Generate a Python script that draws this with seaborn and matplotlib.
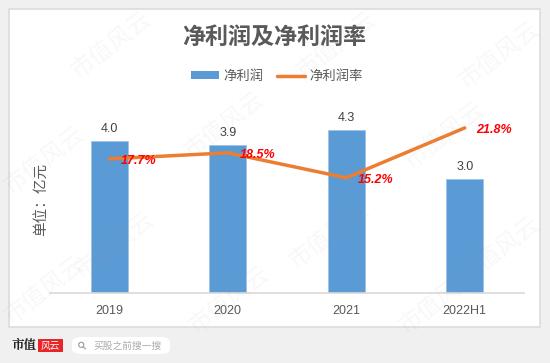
import matplotlib
matplotlib.use("Agg")
import matplotlib.pyplot as plt
import seaborn as sns
import numpy as np
from matplotlib.patches import Rectangle, FancyBboxPatch, Patch
from matplotlib.lines import Line2D

# ---- data ----
categories = ["2019", "2020", "2021", "2022H1"]
net_profit = [4.0, 3.9, 4.3, 3.0]          # 亿元
net_margin = [17.7, 18.5, 15.2, 21.8]      # %
profit_labels = ["4.0", "3.9", "4.3", "3.0"]
margin_labels = ["17.7%", "18.5%", "15.2%", "21.8%"]

title = "净利润及净利润率"
series_names = ["净利润", "净利润率"]
ylabel = "单位：亿元"

BLUE = "#5B9BD5"
ORANGE = "#ED7D31"
GRAY = "#595959"
CJK = ["Noto Sans CJK SC", "DejaVu Sans"]
NUM = ["Liberation Sans", "Noto Sans CJK SC"]

sns.set_theme(style="white")
plt.rcParams["font.family"] = CJK

W, H = 550, 363
fig = plt.figure(figsize=(W / 100, H / 100), dpi=100, facecolor="#f0f0f0")

# white panel
fig.patches.append(Rectangle((9 / W, 1 - 327 / H), 531 / W, 318 / H,
                             transform=fig.transFigure, facecolor="white",
                             edgecolor="#dcdcdc", linewidth=1.2, zorder=-10))

ax = fig.add_axes([50 / W, (H - 292.7) / H, 474 / W, 189 / H])
ax.set_facecolor("none")
sns.barplot(x=categories, y=net_profit, ax=ax, color=BLUE, width=0.31,
            saturation=1, edgecolor="#9cc3e6", linewidth=0.6)
ax.set_ylim(0, 5)
ax.set_xlim(-0.5, 3.5)
ax.bar_label(ax.containers[0], labels=profit_labels, padding=4.5,
             fontsize=9, color="#404040", family=NUM)

ax2 = ax.twinx()
sns.pointplot(x=categories, y=net_margin, ax=ax2, color=ORANGE,
              markers="", linestyles="-", linewidth=2.5, errorbar=None)
for ln in ax2.lines:
    ln.set_solid_capstyle("round")
    ln.set_solid_joinstyle("round")
ax2.set_ylim(0, 25)
ax2.set_xlim(-0.5, 3.5)
for i, (v, lab) in enumerate(zip(net_margin, margin_labels)):
    ax2.annotate(lab, (i, v), xytext=(8.5, -1.6), textcoords="offset points",
                 ha="left", va="center", fontsize=9, fontweight="bold",
                 fontstyle="italic", color="#FF0000", family=NUM)

for a in (ax, ax2):
    for s in a.spines.values():
        s.set_visible(False)
    a.set_yticks([])
    a.set_ylabel("")
    a.set_xlabel("")
    a.tick_params(length=0)
ax.spines["bottom"].set_visible(True)
ax.spines["bottom"].set_color("#d9d9d9")
ax.spines["bottom"].set_linewidth(1.2)
ax.tick_params(axis="x", pad=9, labelsize=9, labelcolor=GRAY)
for t in ax.get_xticklabels():
    t.set_family(NUM)
ax2.tick_params(axis="x", labelbottom=False)

# title, y label, legend
fig.text(274.5 / W, 1 - 37 / H, title, ha="center", va="center",
         fontsize=16.6, fontweight="bold", color=GRAY, family=CJK)
fig.text(40.7 / W, 1 - 199 / H, ylabel, ha="center", va="center",
         rotation=90, fontsize=10.5, color=GRAY, family=CJK)
handles = [Patch(facecolor=BLUE, edgecolor="none"),
           Line2D([], [], color=ORANGE, lw=2.5)]
fig.legend(handles, series_names, loc="center", ncol=2,
           bbox_to_anchor=(277 / W, 1 - 76 / H), frameon=False,
           labelcolor=GRAY, handlelength=2.1,
           handleheight=0.55, handletextpad=0.35, columnspacing=1.0,
           prop={"family": CJK, "size": 9.6})

# watermarks
for (x, y) in [(112, 45), (337, 45), (500, 55), (45, 160), (225, 125),
               (445, 135), (115, 245), (330, 235), (500, 250),
               (230, 300), (440, 300), (45, 290)]:
    fig.text(x / W, 1 - y / H, "市值风云", ha="center", va="center",
             rotation=38, fontsize=17, color="#9a9a9a", alpha=0.07,
             family=CJK, zorder=10)

# footer logo & search box
fig.text(11.5 / W, 1 - 345 / H, "市值", ha="left", va="center", fontsize=9,
         fontweight="bold", color="#222222",
         family=["Noto Serif CJK SC", "Noto Sans CJK SC"])
fig.patches.append(Rectangle((38 / W, 1 - 352 / H), 25 / W, 13 / H,
                             transform=fig.transFigure, facecolor="#e8262a",
                             edgecolor="none"))
fig.text(50.5 / W, 1 - 345.5 / H, "风云", ha="center", va="center", fontsize=7,
         fontstyle="italic", color="white", family=CJK)
fig.patches.append(FancyBboxPatch((72 / W, 1 - 354 / H), 98 / W, 17 / H,
                                  boxstyle="round,pad=0,rounding_size=0.02",
                                  transform=fig.transFigure, facecolor="white",
                                  edgecolor="none", mutation_aspect=H / W))
fig.text(83 / W, 1 - 345.5 / H, "⚲", ha="center", va="center", fontsize=8,
         color="#888888", rotation=45, family=["DejaVu Sans"])
fig.text(93 / W, 1 - 345.5 / H, "买股之前搜一搜", ha="left", va="center",
         fontsize=7, color="#aaaaaa", family=CJK)

fig.savefig("out.png", dpi=100, facecolor=fig.get_facecolor())
